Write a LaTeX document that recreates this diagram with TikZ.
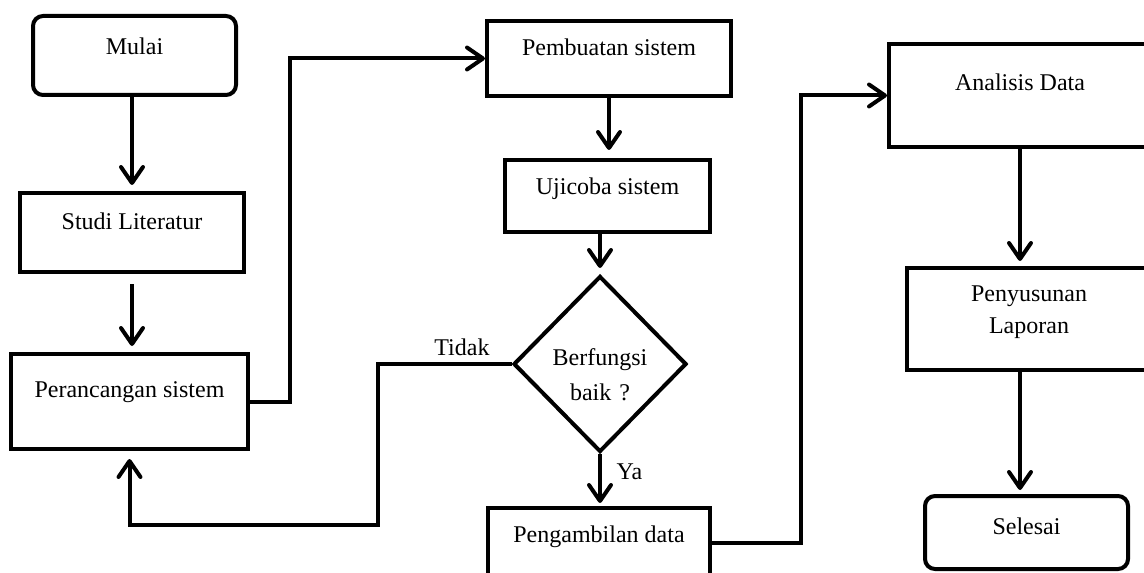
\documentclass[tikz,border=0pt]{standalone}
\usepackage{fontspec}
\setmainfont{Liberation Serif}
\usetikzlibrary{shapes,arrows.meta,positioning}
\tikzstyle{block} = [rectangle, draw, line width=2pt,
    inner ysep=0pt, text centered]
\tikzstyle{block_round} = [block, rounded corners=5pt]
\tikzstyle{decision} = [diamond, draw, line width=2pt,
    inner sep=0pt, text width=56pt, text centered]
\tikzstyle{line} = [draw, line width=2pt, -{Straight Barb[length=8pt,width=11pt,round]}, shorten >=2.5pt]

\begin{document}
\begin{tikzpicture}[x=0.5pt, y=-0.5pt, font=\fontsize{12pt}{16pt}\selectfont]
    \useasboundingbox (0,0) rectangle (1144,572);
    \clip (0,0) rectangle (1144,572);
    % Place nodes
    \node [block_round, minimum width=101.5pt, text height=19.5pt, text depth=20pt] (mulai) at (134.5,55.5) {Mulai};
    \node [block, below of=mulai, node distance=88.5pt, xshift=-1.25pt, minimum width=112pt, text height=18pt, text depth=21.5pt] (studi) {Studi Literatur};
    \node [block, below of=studi, node distance=84.5pt, xshift=-1.25pt, minimum width=118.5pt, text height=21.5pt, text depth=26pt] (rancang) {Perancangan sistem};
    \node [block, minimum width=122pt, text height=17.5pt, text depth=20pt] (buat) at (609,58.5) {Pembuatan sistem};
    \node [block, below of=buat, node distance=68.75pt, xshift=-0.75pt, minimum width=102.5pt, text height=17.5pt, text depth=18.5pt] (uji) {Ujicoba sistem};
    \node [decision, below of=uji, node distance=84pt, xshift=-3.75pt, minimum width=86.5pt, minimum height=88pt, text height=12pt, text depth=11pt, font=\fontsize{12pt}{17.5pt}\selectfont] (cek) {Berfungsi\\baik ?};
    \node [block, below of=cek, node distance=89.5pt, xshift=-0.5pt, minimum width=111pt, text height=17pt, text depth=18pt] (ambil) {Pengambilan data};
    \node [block, minimum width=131pt, text height=23.5pt, text depth=28pt] (analisis) at (1020,95.5) {Analisis Data};
    \node [block, below of=analisis, node distance=111.75pt, xshift=4.5pt, minimum width=122pt, text width=80pt, text height=16.5pt, text depth=34.5pt] (susun) {Penyusunan\\Laporan};
    \node [block_round, below of=susun, node distance=106.75pt, xshift=-1.25pt, minimum width=101.5pt, text height=19pt, text depth=17.5pt] (selesai) {Selesai};

    % Draw edges
    \path [line, shorten >=3pt] (studi.north |- mulai.south) -- (studi.north);
    \path [line, shorten <=5pt, shorten >=3pt] (studi.south) -- (studi.south |- rancang.north);
    \path [line, shorten >=0pt] (rancang.east) -- ++(40,0) |- (buat.west);
    \path [line, shorten >=4pt] (buat.south) -- (buat.south |- uji.north);
    \path [line, shorten >=3pt] (cek.north |- uji.south) -- (cek.north);
    \path [line, shorten >=4pt] (cek.west) -- ++(-134,0) node [above, pos=0.37] {Tidak} -- ++(0,161) -| (rancang.south);
    \path [line, shorten >=1.5pt] (cek.south) -- (cek.south |- ambil.north) node [right, pos=0.35, xshift=4pt] {Ya};
    \path [line, shorten >=0pt] (ambil.east) -- ++(89,0) |- (analisis.west);
    \path [line] (analisis.south) -- (analisis.south |- susun.north);
    \path [line, shorten >=2pt] (analisis.south |- susun.south) -- (analisis.south |- selesai.north);
\end{tikzpicture}
\end{document}
